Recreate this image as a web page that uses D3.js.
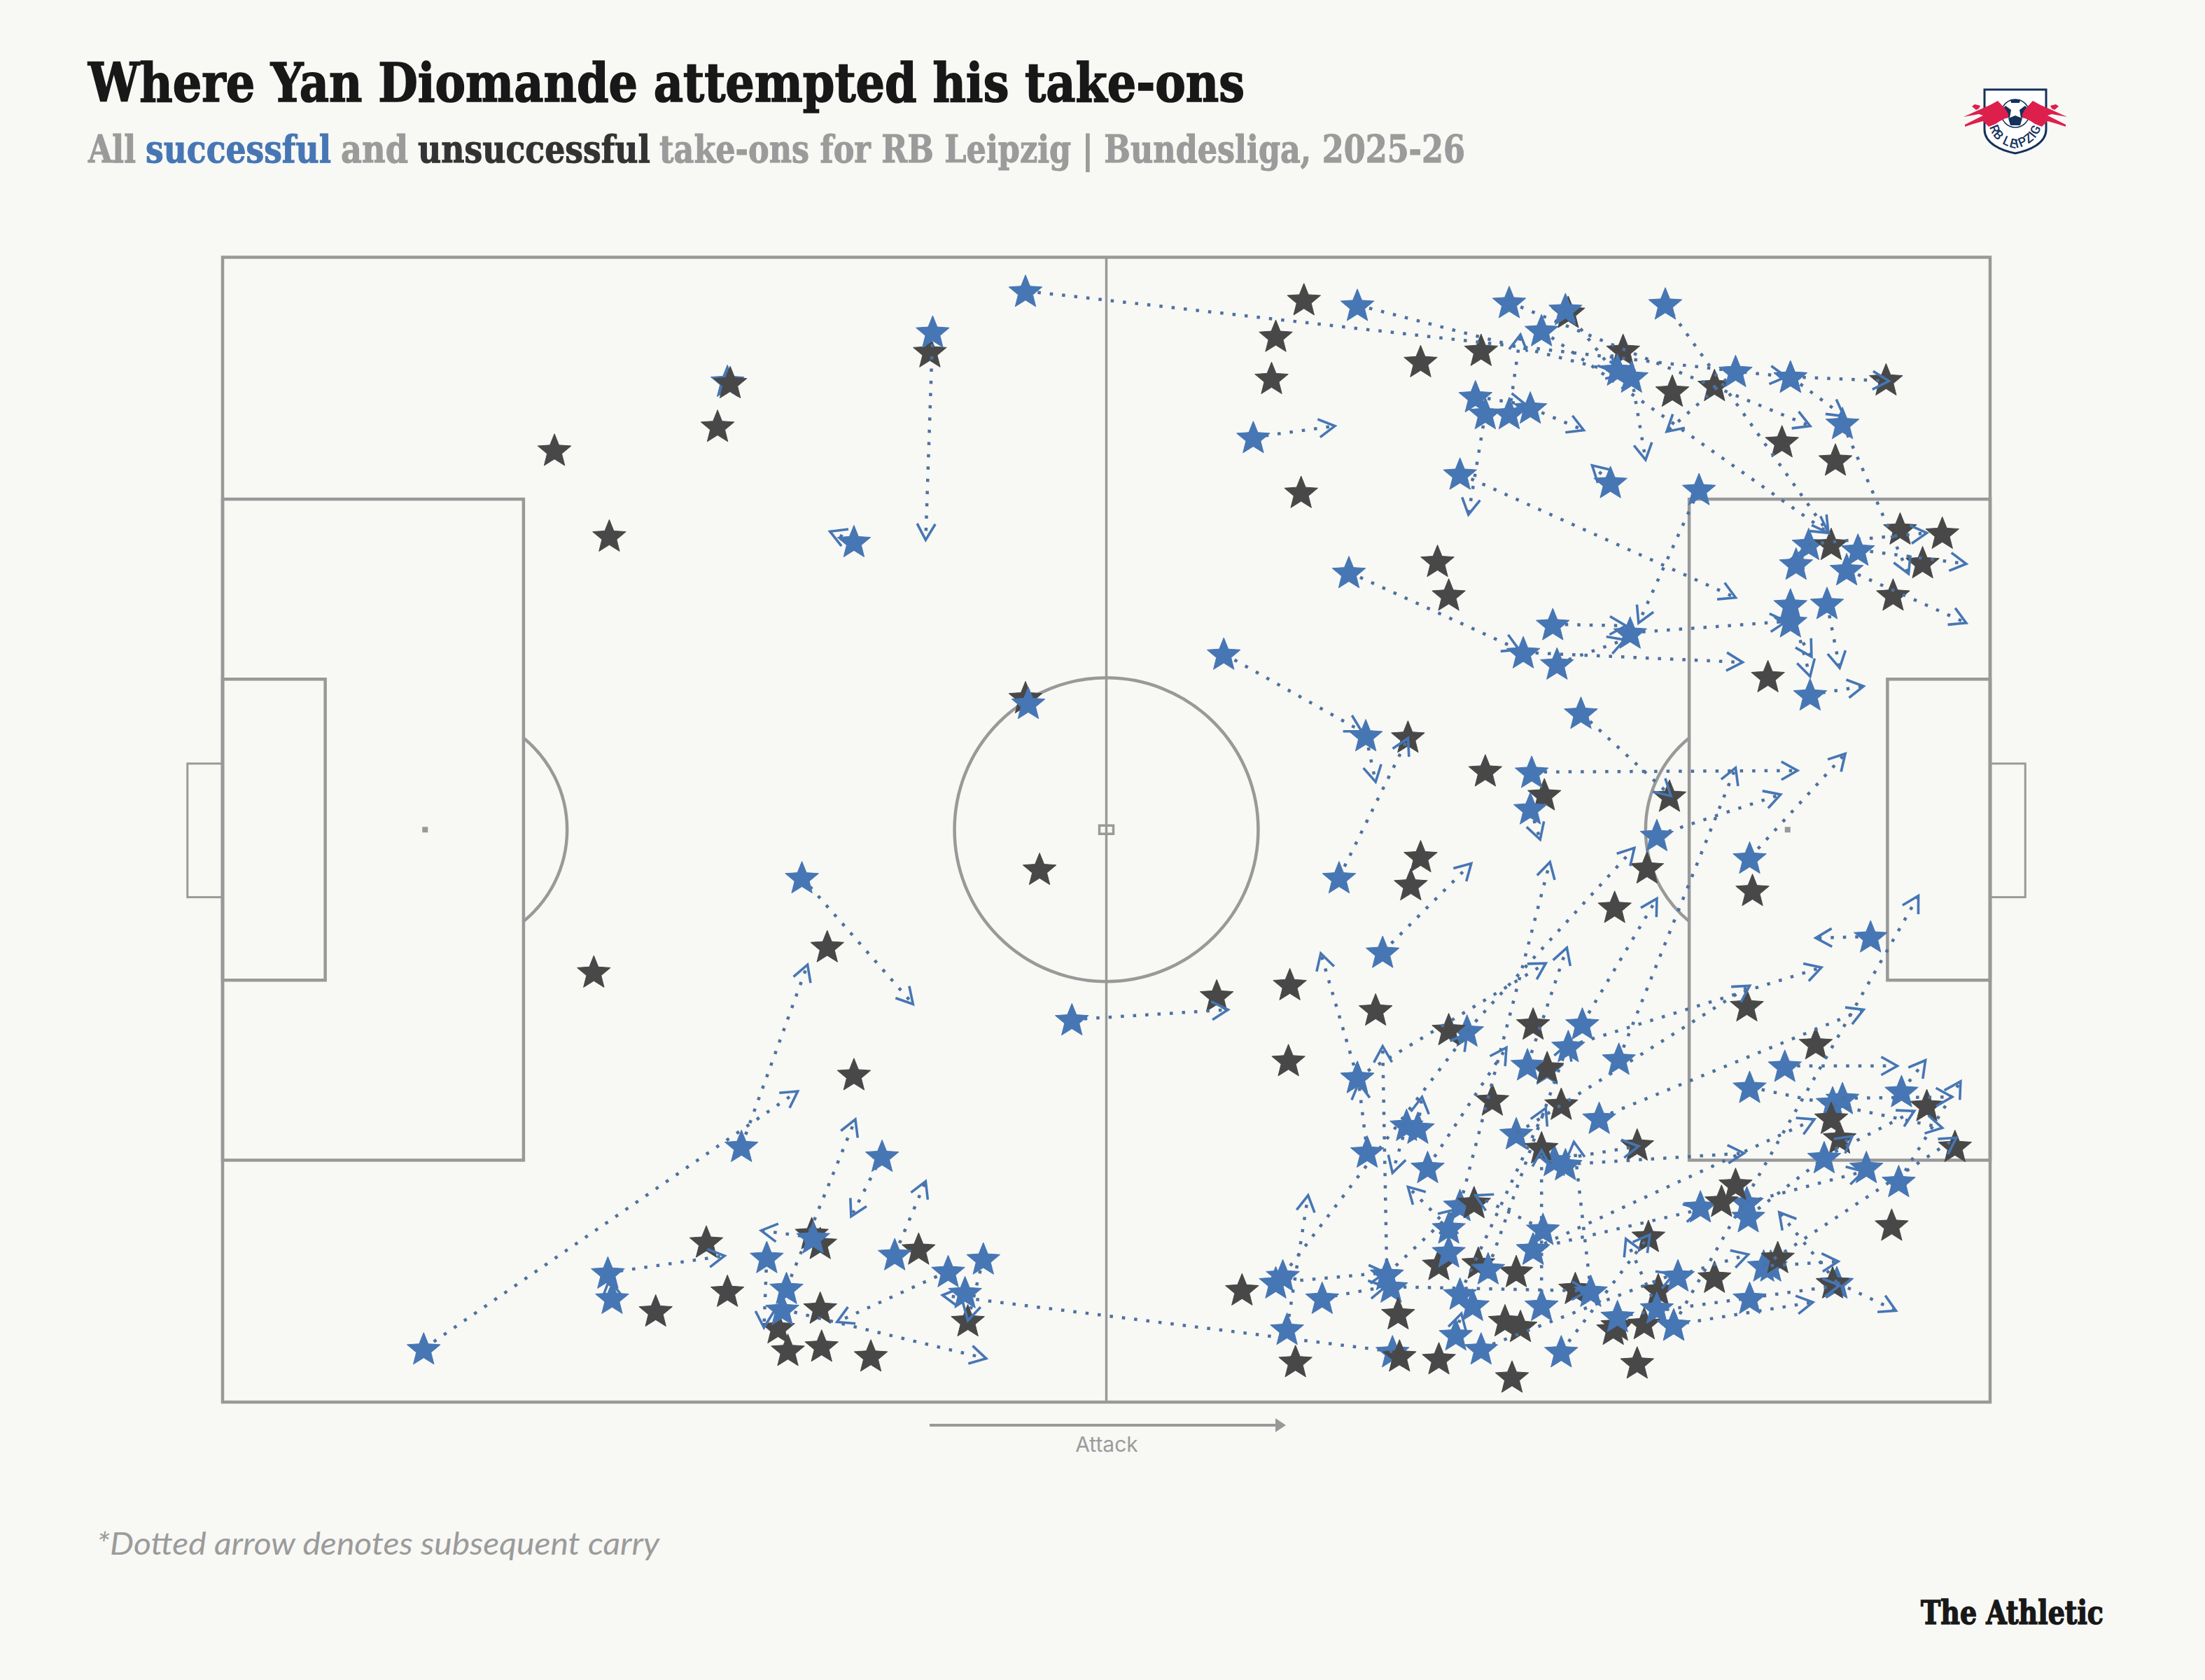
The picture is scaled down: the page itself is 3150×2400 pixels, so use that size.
<!DOCTYPE html>
<html>
<head>
<meta charset="utf-8">
<title>Where Yan Diomande attempted his take-ons</title>
<script src="https://cdn.jsdelivr.net/npm/d3@7"></script>
<style>
  body { margin: 0; background: #f8f8f5; }
  svg { display: block; }
</style>
</head>
<body>
<div id="plot"></div>
<script>
// Texts
var titleText = "Where Yan Diomande attempted his take-ons";
var subtitleParts = ["All", "successful", "and", "unsuccessful", "take-ons for RB Leipzig | Bundesliga, 2025-26"];
var subtitleKinds = ["grey", "blue", "grey", "dark", "grey"];
var footnoteText = "*Dotted arrow denotes subsequent carry";

// x runs 0-1257 towards the attacking goal, y runs 0-814 down the pitch.

// unsuccessful take-ons [x, y]
var takeOnsLost = [
  [236,137],[275,198],[352,120],[361,89],[503,67],[571,313],[581,435],[430,490],[264,508],[449,581],
  [344,700],[359,735],[308,749],[425,701],[419,694],[495,705],[425,747],[530,756],[395,761],[402,777],
  [426,774],[461,781],
  [769,30],[749,56],[746,86],[852,74],[895,66],[957,39],[996,66],[1031,95],[1061,91],[1109,131],
  [1147,144],[1183,87],[767,167],[864,216],[872,240],[1193,193],[1223,196],[1144,204],[1209,217],[1188,240],
  [1099,298],[843,341],[898,365],[940,382],[1029,383],[852,426],[845,446],[1013,434],[990,462],[1088,450],
  [759,517],[820,535],[707,525],[758,571],[872,549],[932,545],[942,576],[1084,532],[1133,559],[903,599],
  [952,602],[890,672],[938,633],[1006,631],[1076,659],[1066,671],[1014,696],[1144,612],[1150,626],[1212,603],
  [1232,632],[1187,688],[1106,711],[1061,725],[1145,729],[1021,734],[962,733],[1011,758],[992,759],[989,762],
  [725,734],[763,785],[836,751],[865,716],[893,715],[920,721],[837,781],[865,783],[912,756],[923,760],
  [917,796],[1006,786]
];

// successful take-ons that another marker sits on top of [x, y, carryEndX, carryEndY]
var takeOnsWonBehind = [
  [359,88],[1128,204,1212,196],[942,577],[885,550,1004,420],[947,642,1007,632],[920,623,1086,518],
  [880,674,944,430],[832,778,512,738],[831,732,971,735],[1148,729,1190,749],[1148,729,1107,679],
  [1096,717,1233,626],[1101,717,1149,714],[1051,675],[1084,672,1167,650],[1145,601],[1152,598,1230,597]
];

// all the other successful take-ons, in the same form
var takeOnsWonFront = [
  [143,776,409,593],[369,632,416,503],[469,639,447,682],[401,733,450,613],[420,697,383,692],[478,709,500,657],
  [387,711,385,761],[516,721,437,757],[541,712,530,756],[528,736],[398,748,543,783],[274,722,357,710],
  [277,740,275,727],[412,441,491,531],[604,542,715,535],[505,53,500,201],[449,202,432,195],[573,317],
  [571,24,1112,85],[807,34,996,83],[915,32,1129,120],[955,37,990,82],[938,52,1142,196],[1026,33,1142,196],
  [992,80],[1002,85,1012,144],[987,160,974,148],[1076,81,1027,124],[1115,85,1185,88],[1115,85,1153,113],
  [1152,118,1199,225],[733,128,791,120],[891,99,927,105],[898,111,886,183],[915,111,923,55],[930,107,968,123],
  [880,154,1076,242],[1050,165,1007,260],[801,224,922,279],[925,281,1081,288],[949,289,997,272],[946,261,998,262],
  [1001,267,1112,259],[1119,218,1123,209],[1163,208,1240,218],[1155,222,1240,260],[1141,246,1150,292],
  [1115,247,1129,298],[1115,259,1130,284],[1129,311,1167,305],[966,324,1030,383],[712,282,810,337],
  [813,340,820,373],[794,441,843,342],[931,366,1120,365],[930,392,937,414],[1020,411,1108,382],[1086,427,1154,353],
  [1172,483,1133,484],[825,494,888,431],[807,583,781,495],[807,583,941,502],[814,636,808,587],[754,724,885,552],
  [749,729,827,722],[928,574,956,491],[957,561,1137,505],[967,545,1020,456],[993,570,1076,363],[979,612,1167,535],
  [955,645,1082,637],[1111,575,1191,575],[1086,590,1223,619],[1194,593,1211,571],[1139,640,1203,607],[1169,647],
  [1085,682,1159,625],[1192,657,1236,586],[1035,724,1085,709],[1032,759,1206,454],[1032,759,1131,743],
  [1020,747,998,698],[992,753,1150,731],[1086,740],[973,735,961,629],[952,778,1015,695],[895,776,1032,723],
  [938,745,938,635],[939,691,891,667],[932,705,1132,613],[932,705,1051,677],[880,737,941,605],[889,745],
  [877,766,881,751],[900,719,957,559],[872,690,843,661],[872,707,872,683],[857,647,913,562],[842,617,832,651],
  [850,619,853,597],[828,723,825,561],[828,723,877,677],[782,740,827,732],[757,762,772,667]
];

// Pitch markings in the same units
var pitchLength = 1257, pitchWidth = 814;
var penaltyBox = [214, 172, 642];
var sixYardBox = [73, 300, 514];
var goalFrame = [25, 360, 455];
var penaltySpot = 144;
var circleRadius = 108;
var arcCentre = 161, arcRadius = 84;

// Colours
var colors = { blue: "#4676b4", dark: "#484848", dots: "#4d719f", line: "#999999", grey: "#9b9b9b", title: "#181818", sub: "#333333" };

var svgWidth = 3150, svgHeight = 2400;

var svg = d3.select("#plot").append("svg")
  .attr("width", svgWidth)
  .attr("height", svgHeight)
  .style("background", "#f8f8f5");

// Scales from pitch units to the page
var x = d3.scaleLinear().domain([0, pitchLength]).range([318, 2843]);
var y = d3.scaleLinear().domain([0, pitchWidth]).range([367.5, 2003]);
var rScale = d3.scaleLinear().domain([0, pitchLength]).range([0, 2525]);

///////////
// title //
///////////
var slabFont = "'DejaVu Serif Condensed', 'DejaVu Serif', serif";

svg.append("text")
  .attr("x", 126).attr("y", 145)
  .attr("textLength", 1652).attr("lengthAdjust", "spacingAndGlyphs")
  .style("font-family", slabFont)
  .style("font-weight", 700).style("font-size", "77px")
  .style("fill", colors.title)
  .style("stroke", colors.title).style("stroke-width", 1.6)
  .text(titleText);

// the subtitle pieces are set apart so each colour starts where it does in the reference
var subtitleSpans = [[126, 194], [208, 473], [487, 583], [597, 929], [942, 2093]];

svg.selectAll(".subtitle").data(subtitleParts).enter().append("text")
  .attr("class", "subtitle")
  .attr("x", (d, i) => subtitleSpans[i][0]).attr("y", 232)
  .attr("textLength", (d, i) => subtitleSpans[i][1] - subtitleSpans[i][0]).attr("lengthAdjust", "spacingAndGlyphs")
  .style("font-family", slabFont)
  .style("font-weight", 700).style("font-size", "54px")
  .style("fill", (d, i) => subtitleKinds[i] == "blue" ? colors.blue : subtitleKinds[i] == "dark" ? colors.sub : colors.grey)
  .style("stroke", (d, i) => subtitleKinds[i] == "blue" ? colors.blue : subtitleKinds[i] == "dark" ? colors.sub : colors.grey)
  .style("stroke-width", 1)
  .text(d => d);

///////////
// pitch //
///////////
var pitch = svg.append("g")
  .attr("fill", "none").attr("stroke", colors.line).attr("stroke-width", 4.5);

function addBox(x0, x1, y0, y1, width) {
  pitch.append("rect")
    .attr("x", x(Math.min(x0, x1))).attr("y", y(y0))
    .attr("width", Math.abs(x(x1) - x(x0))).attr("height", y(y1) - y(y0))
    .attr("stroke-width", width);
}

addBox(0, pitchLength, 0, pitchWidth, 4.5);
addBox(0, penaltyBox[0], penaltyBox[1], penaltyBox[2], 4.5);
addBox(pitchLength, pitchLength - penaltyBox[0], penaltyBox[1], penaltyBox[2], 4.5);
addBox(0, sixYardBox[0], sixYardBox[1], sixYardBox[2], 4.5);
addBox(pitchLength, pitchLength - sixYardBox[0], sixYardBox[1], sixYardBox[2], 4.5);
addBox(0, -goalFrame[0], goalFrame[1], goalFrame[2], 3);
addBox(pitchLength, pitchLength + goalFrame[0], goalFrame[1], goalFrame[2], 3);

// halfway line and centre circle
pitch.append("line")
  .attr("x1", x(pitchLength / 2)).attr("x2", x(pitchLength / 2))
  .attr("y1", y(0)).attr("y2", y(pitchWidth))
  .attr("stroke-width", 3.5);
pitch.append("circle")
  .attr("cx", x(pitchLength / 2)).attr("cy", y(pitchWidth / 2))
  .attr("r", rScale(circleRadius));

// little square on the centre spot
pitch.append("rect")
  .attr("x", x(pitchLength / 2) - 10).attr("y", y(pitchWidth / 2) - 6)
  .attr("width", 20).attr("height", 12)
  .attr("stroke-width", 3.5);

// penalty spots and the arcs outside the boxes
var arcAngle = Math.acos((penaltyBox[0] - arcCentre) / arcRadius);
var arc = d3.arc().innerRadius(rScale(arcRadius)).outerRadius(rScale(arcRadius));
[[penaltySpot, arcCentre, 1], [pitchLength - penaltySpot, pitchLength - arcCentre, -1]].forEach(function(d) {
  svg.append("rect")
    .attr("x", x(d[0]) - 4).attr("y", y(pitchWidth / 2) - 4)
    .attr("width", 8).attr("height", 8)
    .attr("fill", colors.line);
  var mid = d[2] * Math.PI / 2;
  pitch.append("path")
    .attr("transform", `translate(${x(d[1])}, ${y(pitchWidth / 2)})`)
    .attr("d", arc({ startAngle: mid - arcAngle, endAngle: mid + arcAngle }));
});

///////////
// marks //
///////////
var starOuter = 25, starInner = 11;
var starDrop = 2; // a star's middle sits a little under the middle of its outline
var starPath = d3.lineRadial()
  .curve(d3.curveLinearClosed)
  (d3.range(10).map(i => [i * Math.PI / 5, i % 2 ? starInner : starOuter]));
var chevronPath = d3.line()([[-23, -13], [0, 0], [-23, 13]]);

function addStars(data, color) {
  svg.append("g").selectAll("path")
    .data(data)
    .enter()
    .append("path")
    .attr("d", starPath)
    .attr("transform", d => `translate(${x(d[0])}, ${y(d[1]) + starDrop})`)
    .attr("fill", color)
    .attr("stroke", color)
    .attr("stroke-width", 1)
    .attr("stroke-linejoin", "round");
}

function addCarries(data) {
  var carries = svg.append("g").selectAll("g")
    .data(data.filter(d => d.length == 4))
    .enter()
    .append("g");

  carries.append("line")
    .attr("x1", d => x(d[0]))
    .attr("y1", d => y(d[1]))
    .attr("x2", d => x(d[2]))
    .attr("y2", d => y(d[3]))
    .attr("stroke", colors.dots)
    .attr("stroke-width", 4.5)
    .attr("stroke-dasharray", "4.5 13");

  carries.append("path")
    .attr("d", chevronPath)
    .attr("transform", function(d) {
      var angle = Math.atan2(y(d[3]) - y(d[1]), x(d[2]) - x(d[0])) * 180 / Math.PI;
      return `translate(${x(d[2])}, ${y(d[3])}) rotate(${angle})`;
    })
    .attr("fill", "none")
    .attr("stroke", colors.blue)
    .attr("stroke-width", 3.6);
}

addStars(takeOnsWonBehind, colors.blue);
addStars(takeOnsLost, colors.dark);
addCarries(takeOnsWonBehind);
addCarries(takeOnsWonFront);
addStars(takeOnsWonFront, colors.blue);

////////////////////
// attack + notes //
////////////////////
svg.append("line")
  .attr("x1", 1328).attr("x2", 1825)
  .attr("y1", 2036).attr("y2", 2036)
  .attr("stroke", colors.line).attr("stroke-width", 4);
svg.append("path")
  .attr("d", d3.line()([[1822, 2026], [1837, 2036], [1822, 2046]]))
  .attr("fill", colors.line);
svg.append("text")
  .attr("x", 1581).attr("y", 2074)
  .attr("text-anchor", "middle")
  .style("font-family", "Inter, Roboto, sans-serif")
  .style("font-size", "30px")
  .style("fill", colors.grey)
  .text("Attack");

svg.append("text")
  .attr("x", 138).attr("y", 2221)
  .attr("textLength", 804).attr("lengthAdjust", "spacingAndGlyphs")
  .style("font-family", "Lato, sans-serif")
  .style("font-style", "italic")
  .style("font-size", "44px")
  .style("fill", colors.grey)
  .text(footnoteText);

svg.append("text")
  .attr("x", 2744).attr("y", 2320)
  .attr("textLength", 261).attr("lengthAdjust", "spacingAndGlyphs")
  .style("font-family", slabFont)
  .style("font-weight", 700).style("font-size", "46px")
  .style("fill", colors.title)
  .style("stroke", colors.title).style("stroke-width", 1.4)
  .text("The Athletic");

//////////////////
// club badge   //
//////////////////
var badge = svg.append("g").attr("transform", "translate(2879, 127)");
var navy = "#14315c", red = "#dd1f4c";

badge.append("path")
  .attr("d", "M-44,1 H44 V58 C44,78 20,88 0,92 C-20,88 -44,78 -44,58 Z")
  .attr("fill", "#ffffff").attr("stroke", navy).attr("stroke-width", 3);

// ball
badge.append("circle").attr("cx", 0).attr("cy", 35).attr("r", 20)
  .attr("fill", "#ffffff").attr("stroke", navy).attr("stroke-width", 1.5);
badge.append("path").attr("d", "M-14,24 L-6,30 L-8,41 L-17,42 L-21,32 Z").attr("fill", navy);
badge.append("path").attr("d", "M14,24 L6,30 L8,41 L17,42 L21,32 Z").attr("fill", navy);
badge.append("path").attr("d", "M-7,52 L7,52 L10,42 L0,38 L-10,42 Z").attr("fill", navy);
badge.append("path").attr("d", "M-7,15 L7,15 L6,20 L-6,20 Z").attr("fill", navy);

// the two bulls are the same shape mirrored
[1, -1].forEach(function(side) {
  badge.append("path")
    .attr("transform", `scale(${side}, 1)`)
    .attr("d", "M-10,36 L-14,29 L-25,17 L-36,23 L-52,30 L-74,40 L-52,36 L-46,38 L-62,46 L-72,51 L-72,54 L-60,50 L-46,46 L-38,54 L-28,50 L-22,46 L-14,42 L-10,41 Z M-56,30 L-62,25 L-58,22 L-50,24 L-52,28 Z")
    .attr("fill", red);
});

// club name along the bottom of the shield
badge.append("path").attr("id", "badgeArc").attr("d", "M-38,46 C-36,74 -14,82 0,85 C14,82 36,74 38,46").attr("fill", "none");
badge.append("text")
  .style("font-family", "Roboto, sans-serif").style("font-weight", 500).style("font-size", "18px")
  .style("letter-spacing", "1px").style("fill", navy)
  .append("textPath").attr("href", "#badgeArc").attr("startOffset", "50%").attr("text-anchor", "middle")
  .text("RB LEIPZIG");
</script>
</body>
</html>
